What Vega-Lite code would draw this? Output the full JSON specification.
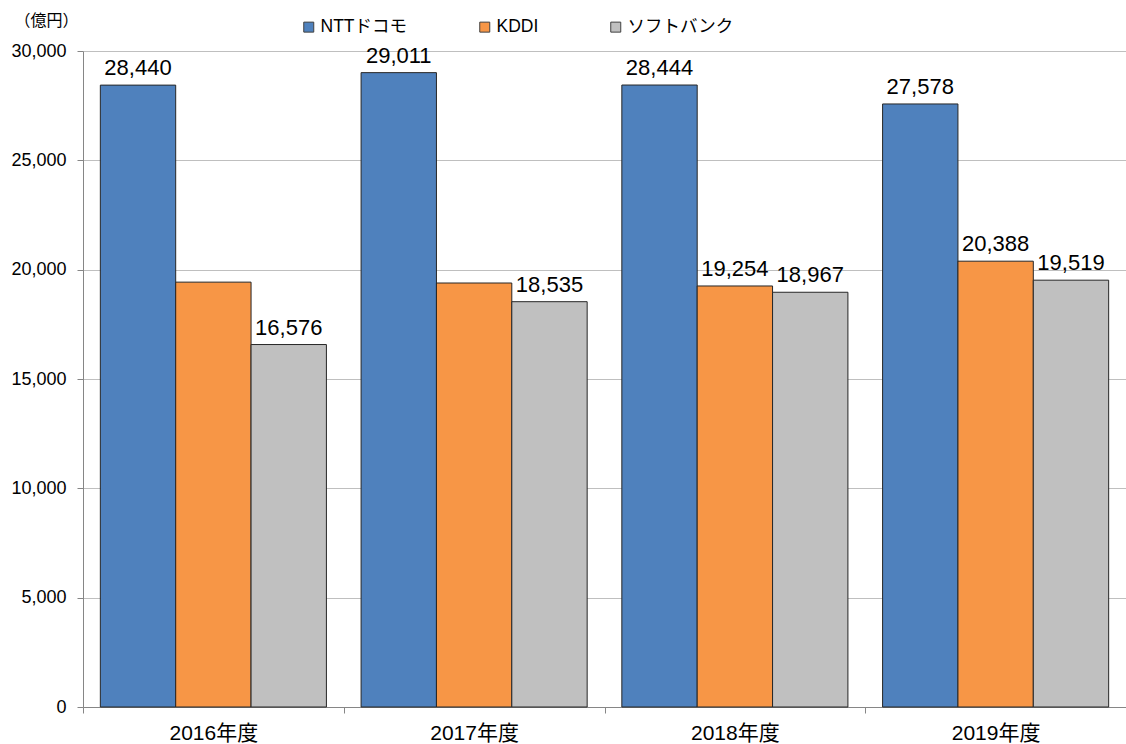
{
  "$schema": "https://vega.github.io/schema/vega-lite/v6.json",
  "autosize": {"type": "none"},
  "padding": {"left": 83, "top": 51, "right": 0, "bottom": 37},
  "width": 1043,
  "height": 656,
  "background": "white",
  "config": {
    "font": "Liberation Sans, Noto Sans CJK JP",
    "view": {"stroke": null}
  },
  "data": {
    "values": [
      {"year": "2016年度", "company": "NTTドコモ", "value": 28440, "label": "28,440"},
      {"year": "2016年度", "company": "KDDI", "value": 19430, "label": null},
      {"year": "2016年度", "company": "ソフトバンク", "value": 16576, "label": "16,576"},
      {"year": "2017年度", "company": "NTTドコモ", "value": 29011, "label": "29,011"},
      {"year": "2017年度", "company": "KDDI", "value": 19390, "label": null},
      {"year": "2017年度", "company": "ソフトバンク", "value": 18535, "label": "18,535"},
      {"year": "2018年度", "company": "NTTドコモ", "value": 28444, "label": "28,444"},
      {"year": "2018年度", "company": "KDDI", "value": 19254, "label": "19,254"},
      {"year": "2018年度", "company": "ソフトバンク", "value": 18967, "label": "18,967"},
      {"year": "2019年度", "company": "NTTドコモ", "value": 27578, "label": "27,578"},
      {"year": "2019年度", "company": "KDDI", "value": 20388, "label": "20,388"},
      {"year": "2019年度", "company": "ソフトバンク", "value": 19519, "label": "19,519"}
    ]
  },
  "encoding": {
    "x": {
      "field": "year", "type": "nominal",
      "scale": {"paddingInner": 0, "paddingOuter": 0},
      "axis": {
        "title": null, "labelAngle": 0, "labelFontSize": 21, "labelColor": "#000000",
        "labelPadding": 9, "domainColor": "#868686", "tickColor": "#868686",
        "tickBand": "extent", "tickSize": 6
      }
    },
    "xOffset": {
      "field": "company", "type": "nominal",
      "sort": ["NTTドコモ", "KDDI", "ソフトバンク"],
      "scale": {"paddingInner": 0, "paddingOuter": 0.23}
    },
    "y": {
      "field": "value", "type": "quantitative",
      "scale": {"domain": [0, 30000], "nice": false},
      "axis": {
        "values": [0, 5000, 10000, 15000, 20000, 25000, 30000],
        "format": ",d",
        "labelFontSize": 18, "labelColor": "#000000", "labelPadding": 11,
        "tickColor": "#868686", "tickSize": 6,
        "domainColor": "#868686",
        "gridColor": "#BFBFBF", "gridWidth": 1,
        "title": "（億円）", "titleAngle": 0, "titleAlign": "left",
        "titleBaseline": "middle", "titleX": -69, "titleY": -31,
        "titleFontSize": 16, "titleFontWeight": "normal", "titleColor": "#000000"
      }
    }
  },
  "layer": [
    {
      "mark": {"type": "bar", "stroke": "#262626", "strokeWidth": 1},
      "encoding": {
        "color": {
          "field": "company", "type": "nominal",
          "sort": ["NTTドコモ", "KDDI", "ソフトバンク"],
          "scale": {"domain": ["NTTドコモ", "KDDI", "ソフトバンク"], "range": ["#4F81BD", "#F79646", "#C0C0C0"]},
          "legend": {
            "title": null, "orient": "none", "direction": "horizontal",
            "legendX": 217, "legendY": -33,
            "symbolType": "square", "symbolSize": 100, "symbolStrokeColor": "#404040",
            "symbolStrokeWidth": 1, "symbolOpacity": 1,
            "labelFontSize": 17.5, "labelColor": "#000000", "labelOffset": 3,
            "columnPadding": 68
          }
        }
      }
    },
    {
      "transform": [{"filter": "datum.label != null"}],
      "mark": {"type": "text", "baseline": "bottom", "dy": -5, "fontSize": 22, "color": "#000000"},
      "encoding": {
        "text": {"field": "label", "type": "nominal"}
      }
    }
  ]
}
